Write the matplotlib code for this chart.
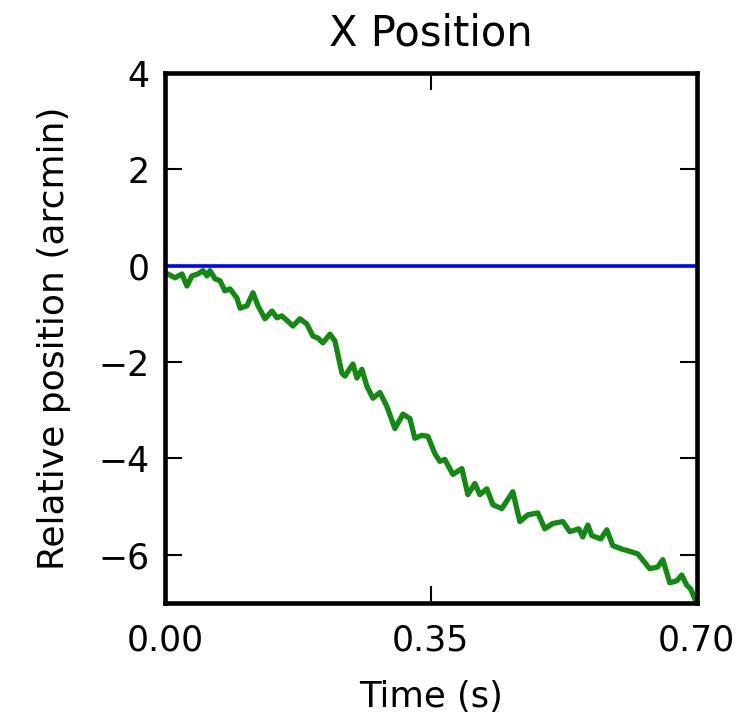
import numpy as np
import matplotlib
matplotlib.use("Agg")
import matplotlib.pyplot as plt

time_s = [0.0013, 0.0132, 0.0224, 0.0289, 0.0355, 0.0434, 0.0500, 0.0553, 0.0592, 0.0658,
          0.0724, 0.0789, 0.0855, 0.0947, 0.0987, 0.1079, 0.1158, 0.1224, 0.1316, 0.1408,
          0.1474, 0.1539, 0.1684, 0.1776, 0.1868, 0.1947, 0.2013, 0.2079, 0.2171, 0.2237,
          0.2329, 0.2368, 0.2474, 0.2526, 0.2592, 0.2658, 0.2737, 0.2829, 0.2921, 0.3026,
          0.3132, 0.3224, 0.3289, 0.3382, 0.3461, 0.3553, 0.3618, 0.3684, 0.3789, 0.3908,
          0.3987, 0.4079, 0.4145, 0.4237, 0.4316, 0.4434, 0.4579, 0.4671, 0.4776, 0.4908,
          0.5000, 0.5105, 0.5237, 0.5329, 0.5447, 0.5500, 0.5566, 0.5618, 0.5737, 0.5816,
          0.5895, 0.6013, 0.6145, 0.6224, 0.6382, 0.6487, 0.6553, 0.6645, 0.6737, 0.6803,
          0.6868, 0.6921, 0.6987]
x_offset = [-0.15, -0.25, -0.17, -0.42, -0.21, -0.17, -0.10, -0.21, -0.10, -0.27,
            -0.31, -0.52, -0.48, -0.67, -0.88, -0.83, -0.56, -0.83, -1.10, -0.94,
            -1.08, -1.04, -1.25, -1.10, -1.21, -1.46, -1.50, -1.60, -1.42, -1.56,
            -2.23, -2.29, -2.04, -2.33, -2.15, -2.50, -2.75, -2.63, -2.92, -3.38,
            -3.08, -3.17, -3.58, -3.52, -3.54, -3.90, -4.06, -4.02, -4.33, -4.21,
            -4.75, -4.52, -4.75, -4.63, -4.96, -5.04, -4.69, -5.31, -5.17, -5.13,
            -5.46, -5.35, -5.31, -5.52, -5.46, -5.63, -5.38, -5.60, -5.67, -5.48,
            -5.81, -5.88, -5.94, -5.98, -6.29, -6.25, -6.10, -6.58, -6.54, -6.42,
            -6.63, -6.71, -6.96]

# Reference (target) position
ref_time = [0.0, 0.70]
ref_offset = [0.0, 0.0]

xticks = [0.0, 0.35, 0.70]
xticklabels = ["0.00", "0.35", "0.70"]
yticks = [-6, -4, -2, 0, 2, 4]

fig = plt.figure(figsize=(7.5, 7.2), dpi=100, facecolor="white")
ax = fig.add_axes([0.22, 0.1625, 0.709, 0.736])

ax.plot(ref_time, ref_offset, color="#0000ff", lw=2.6)
ax.plot(time_s, x_offset, color="#108a10", lw=3.8, solid_joinstyle="round")

ax.set_xlim(0, 0.70)
ax.set_ylim(-7, 4)
ax.set_xticks(xticks)
ax.set_xticklabels(xticklabels)
ax.set_yticks(yticks)

for s in ax.spines.values():
    s.set_linewidth(3.3)
ax.tick_params(direction="in", length=12, width=1.5, labelsize=25,
               top=True, right=True, pad=11)
ax.tick_params(axis="x", pad=15)

ax.set_title("X Position", fontsize=30, pad=20)
ax.set_xlabel("Time (s)", fontsize=25.5, labelpad=16)
ax.set_ylabel("Relative position (arcmin)", fontsize=26, labelpad=20)

fig.savefig("out.png", dpi=100, facecolor="white")
